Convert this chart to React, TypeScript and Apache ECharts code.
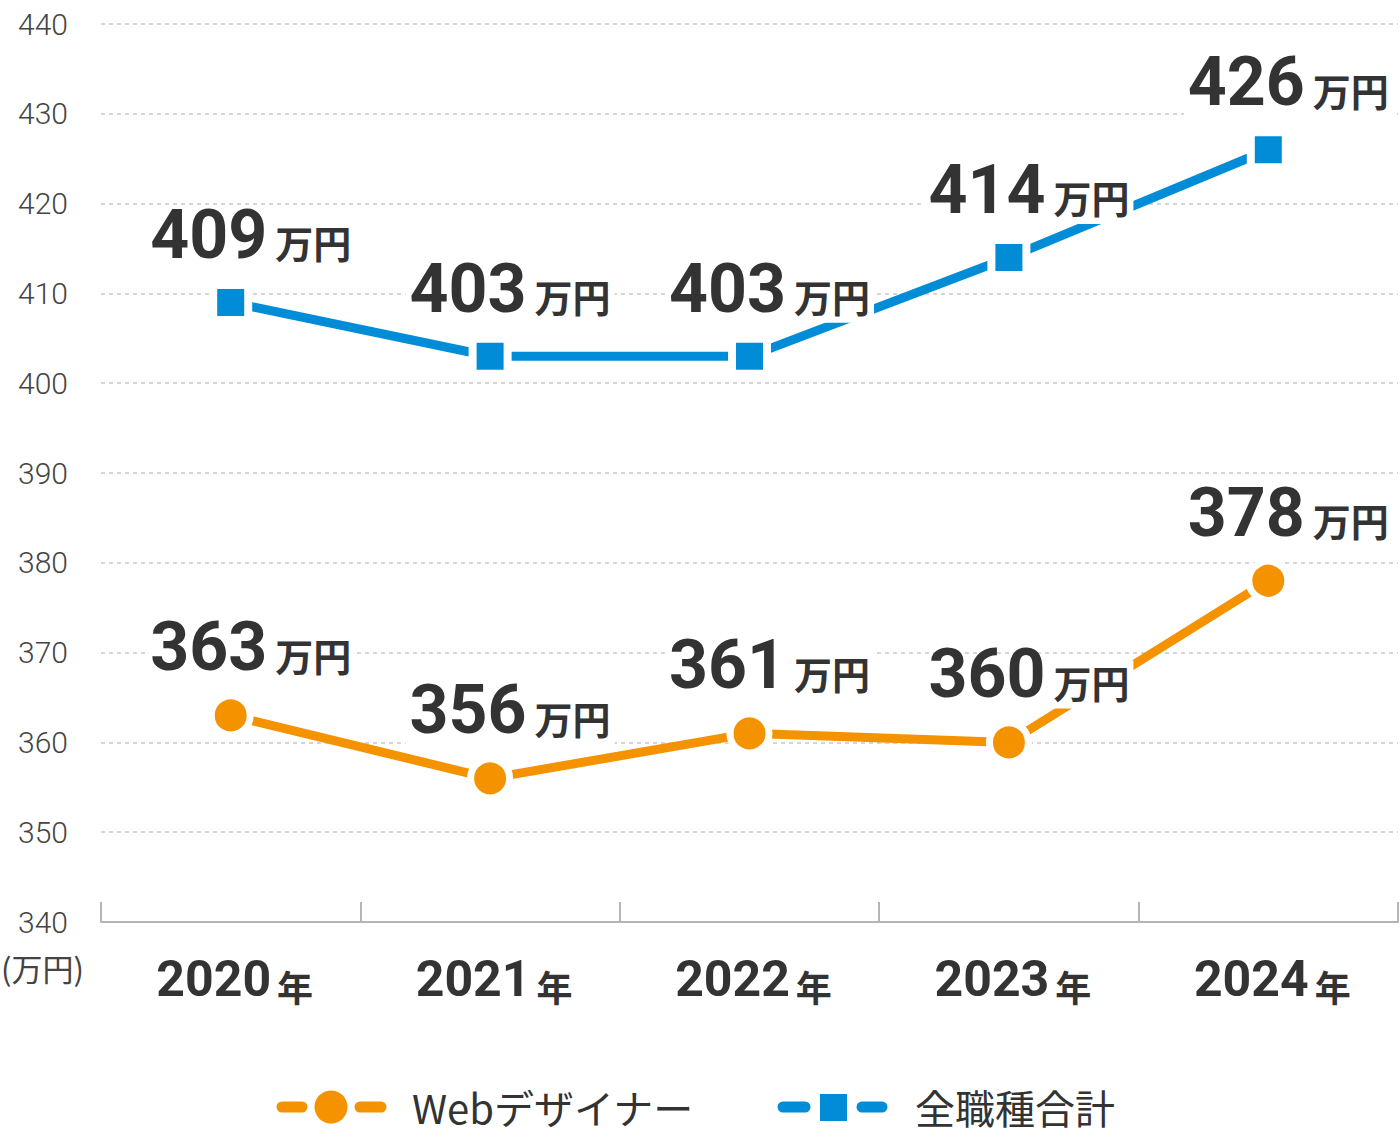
import React, { useEffect, useRef } from "react";
import * as echarts from "echarts";

const years = ["2020", "2021", "2022", "2023", "2024"];
const webDesigner = [363, 356, 361, 360, 378];
const allJobs = [409, 403, 403, 414, 426];
const yMin = 340;
const yMax = 440;
const yStep = 10;
const unit = "万円";
const yearSuffix = "年";
const seriesNames = ["Webデザイナー", "全職種合計"];

const ORANGE = "#F59200";
const BLUE = "#008CD6";
const TEXT = "#333333";
const NUM_FONT = "Roboto";
const JP_FONT = "'Noto Sans CJK JP'";

const valueLabel = (distance: number) => ({
  show: true,
  position: "top",
  distance,
  offset: [20, 0],
  backgroundColor: "#ffffff",
  padding: [2, 4, 0, 4],
  formatter: (p: any) => `{n|${p.value}}{u|${unit}}`,
  rich: {
    n: {
      fontFamily: NUM_FONT,
      fontWeight: "bold",
      fontSize: 68,
      color: TEXT,
      lineHeight: 46,
      verticalAlign: "bottom",
    },
    u: {
      fontFamily: JP_FONT,
      fontWeight: "bold",
      fontSize: 38,
      color: TEXT,
      lineHeight: 30,
      verticalAlign: "top",
      padding: [0, 0, 0, 8],
    },
  },
});

export default function App() {
  const ref = useRef<HTMLDivElement>(null);
  useEffect(() => {
    document.body.style.margin = "0";
    const chart = echarts.init(ref.current!, null, { renderer: "svg" });
    chart.setOption({
      animation: false,
      backgroundColor: "#ffffff",
      grid: { left: 101, right: 2, top: 24, bottom: 215, containLabel: false },
      xAxis: {
        type: "category",
        data: years,
        boundaryGap: true,
        axisLine: { show: true, lineStyle: { color: "#b5b5b5", width: 2 } },
        axisTick: { show: true, inside: true, length: 20, lineStyle: { color: "#b5b5b5", width: 2 } },
        axisLabel: {
          margin: 32,
          formatter: (v: string) => `{y|${v}}{s|${yearSuffix}}`,
          rich: {
            y: {
              fontFamily: NUM_FONT,
              fontWeight: "bold",
              fontSize: 50,
              color: TEXT,
              lineHeight: 50,
              verticalAlign: "bottom",
              padding: [0, 0, 0, 8],
            },
            s: {
              fontFamily: JP_FONT,
              fontWeight: "bold",
              fontSize: 36,
              color: TEXT,
              lineHeight: 40,
              verticalAlign: "bottom",
              padding: [0, 0, 0, 6],
            },
          },
        },
        splitLine: { show: false },
      },
      yAxis: {
        type: "value",
        min: yMin,
        max: yMax,
        interval: yStep,
        axisLine: { show: false },
        axisTick: { show: false },
        axisLabel: {
          margin: 33,
          fontFamily: NUM_FONT,
          fontWeight: 300,
          fontSize: 30,
          color: "#444444",
        },
        splitLine: {
          show: true,
          lineStyle: { color: "#c8c8c8", width: 1.5, type: [4, 4] },
        },
      },
      series: [
        {
          name: seriesNames[0],
          type: "line",
          data: webDesigner,
          symbol: "circle",
          symbolSize: 39,
          lineStyle: { color: ORANGE, width: 9 },
          itemStyle: { color: ORANGE, borderColor: "#ffffff", borderWidth: 7 },
          label: valueLabel(11),
          z: 3,
        },
        {
          name: seriesNames[1],
          type: "line",
          data: allJobs,
          symbol: "rect",
          symbolSize: 35,
          lineStyle: { color: BLUE, width: 9 },
          itemStyle: { color: BLUE, borderColor: "#ffffff", borderWidth: 8 },
          label: valueLabel(12),
          z: 3,
        },
      ],
      graphic: [
        {
          type: "text",
          left: 1,
          top: 952,
          style: {
            text: `(${unit})`,
            fontFamily: JP_FONT,
            fontSize: 31,
            fill: "#444444",
          },
        },
        {
          type: "line",
          shape: { x1: 282, y1: 1107, x2: 302, y2: 1107 },
          style: { stroke: ORANGE, lineWidth: 11, lineCap: "round" },
        },
        {
          type: "circle",
          shape: { cx: 331, cy: 1107, r: 16.5 },
          style: { fill: ORANGE },
        },
        {
          type: "line",
          shape: { x1: 360, y1: 1107, x2: 381, y2: 1107 },
          style: { stroke: ORANGE, lineWidth: 11, lineCap: "round" },
        },
        {
          type: "text",
          x: 412,
          y: 1107,
          style: {
            text: seriesNames[0],
            fontFamily: JP_FONT,
            fontSize: 40,
            fill: TEXT,
            verticalAlign: "middle",
          },
        },
        {
          type: "line",
          shape: { x1: 783, y1: 1107, x2: 805, y2: 1107 },
          style: { stroke: BLUE, lineWidth: 11, lineCap: "round" },
        },
        {
          type: "rect",
          shape: { x: 820, y: 1094, width: 27, height: 27 },
          style: { fill: BLUE },
        },
        {
          type: "line",
          shape: { x1: 862, y1: 1107, x2: 882, y2: 1107 },
          style: { stroke: BLUE, lineWidth: 11, lineCap: "round" },
        },
        {
          type: "text",
          x: 915,
          y: 1107,
          style: {
            text: seriesNames[1],
            fontFamily: JP_FONT,
            fontSize: 40,
            fill: TEXT,
            verticalAlign: "middle",
          },
        },
      ],
    });
    return () => chart.dispose();
  }, []);
  return <div ref={ref} style={{ width: 1400, height: 1137 }} />;
}
